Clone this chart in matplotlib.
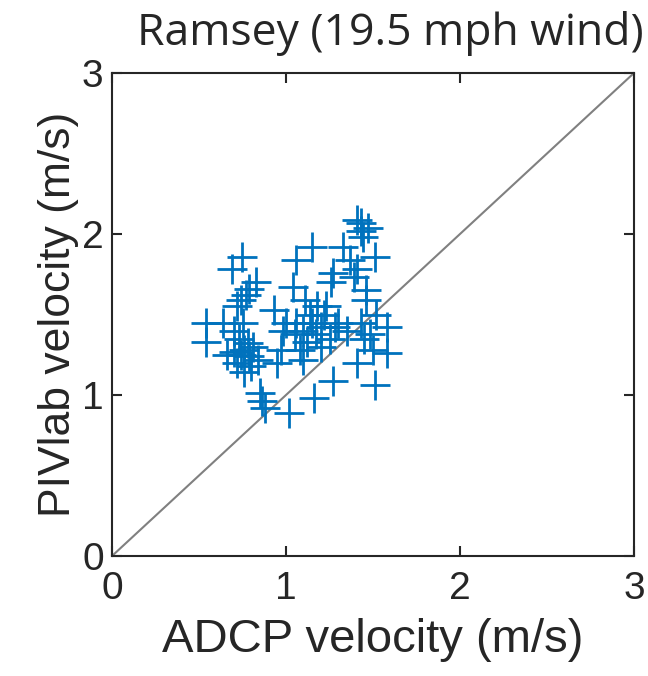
import matplotlib
matplotlib.use("Agg")
import matplotlib.pyplot as plt
import numpy as np

# ADCP vs PIVlab velocities (m/s)
adcp = [0.54, 0.54, 0.69, 0.745, 0.83, 0.79, 0.74, 0.72, 0.64, 0.77,
        0.70, 0.75, 0.73, 0.78, 0.76, 0.81, 0.74, 0.79, 0.72, 0.80,
        0.76, 0.84, 0.70, 0.66, 0.85, 0.86, 0.88, 0.93, 0.97, 0.98,
        1.04, 1.02, 1.16, 1.10, 1.06, 1.15, 1.33, 1.37, 1.51, 1.27,
        1.41, 1.39, 1.26, 1.46, 1.46, 1.43, 1.43, 1.41, 1.47, 1.44,
        1.11, 1.06, 1.10, 1.14, 1.18, 1.15, 1.20, 1.22, 1.17, 1.25,
        1.28, 1.12, 1.05, 1.23, 1.30, 1.20, 1.08, 1.43, 1.48, 1.58,
        1.50, 1.58, 1.41, 1.27, 1.51, 1.45, 1.52, 1.00, 0.95, 1.35]
piv = [1.45, 1.33, 1.78, 1.86, 1.70, 1.66, 1.59, 1.55, 1.45, 1.62,
       1.40, 1.45, 1.35, 1.32, 1.28, 1.30, 1.25, 1.24, 1.20, 1.18,
       1.14, 1.22, 1.27, 1.25, 1.01, 0.96, 0.92, 1.53, 1.28, 1.40,
       1.67, 0.89, 0.98, 1.22, 1.84, 1.92, 1.92, 1.84, 1.86, 1.76,
       1.78, 1.73, 1.70, 1.65, 1.59, 2.07, 2.02, 2.09, 2.04, 1.98,
       1.59, 1.45, 1.40, 1.50, 1.55, 1.45, 1.42, 1.50, 1.38, 1.35,
       1.42, 1.33, 1.38, 1.55, 1.45, 1.30, 1.28, 1.45, 1.38, 1.42,
       1.28, 1.26, 1.20, 1.09, 1.06, 1.35, 1.50, 1.45, 1.20, 1.40]
ticks = [0, 1, 2, 3]

fig = plt.figure(figsize=(6.48, 6.76), dpi=100)
ax = fig.add_axes([112 / 648, 120 / 676, 522 / 648, 483 / 676])

ax.plot([0, 3], [0, 3], color="#808080", linewidth=1.5)
ax.plot(adcp, piv, linestyle="none", marker="+", markersize=22,
        markeredgewidth=2, color="#0072BD")

ax.set_xlim(0, 3)
ax.set_ylim(0, 3)
ax.set_xticks(ticks)
ax.set_yticks(ticks)
ax.tick_params(direction="in", length=7, width=1.5, top=True, right=True,
               labelsize=28, colors="#262626")
ax.tick_params(axis="x", pad=11)
ax.tick_params(axis="y", pad=6)
for lab in ax.get_xticklabels() + ax.get_yticklabels():
    lab.set_family("Liberation Sans")
for s in ax.spines.values():
    s.set_linewidth(1.5)
    s.set_color("#262626")

ax.set_xlabel("ADCP velocity (m/s)", fontsize=34, family="Liberation Sans",
              color="#262626", labelpad=8)
ax.set_ylabel("PIVlab velocity (m/s)", fontsize=32, family="Liberation Sans",
              color="#262626", labelpad=2)
ax.set_title("Ramsey (19.5 mph wind)", fontsize=32, family="Open Sans",
             color="#262626", pad=20, x=0.533)

fig.savefig("out.png", dpi=100)
